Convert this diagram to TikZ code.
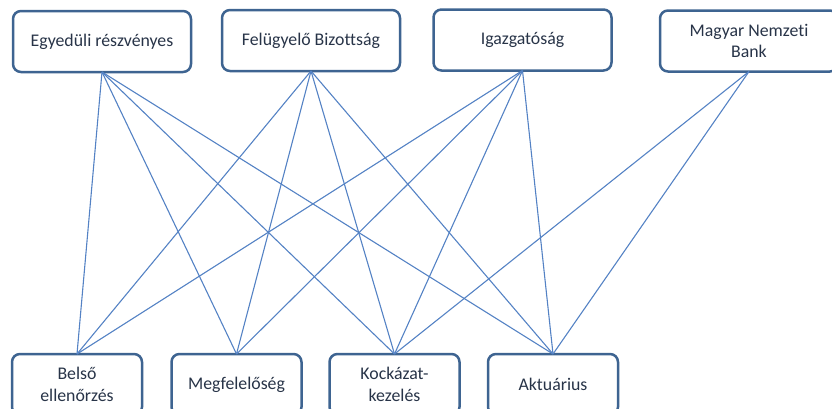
\documentclass[tikz,border=0pt]{standalone}
\usepackage{fontspec}
\setmainfont{Carlito}[Ligatures=NoCommon]
\definecolor{boxborder}{RGB}{62,100,145}
\definecolor{conn}{RGB}{84,130,196}
\definecolor{txt}{RGB}{40,52,72}
\begin{document}
\begin{tikzpicture}[x=1pt,y=-1pt,
  box/.style={draw=boxborder,line width=2.5pt,rounded corners=8pt,fill=white,
    align=center,outer sep=0pt,inner sep=0pt,text=txt,
    font=\fontsize{17.8}{21.5}\selectfont},
  topbox/.style={box,minimum width=178pt,minimum height=61pt},
  botbox/.style={box,minimum width=130pt,minimum height=61pt},
  link/.style={draw=conn,line width=1.1pt}]
\useasboundingbox (0,0) rectangle (832,408);
\node[topbox] (eg) at (102,41.5) {Egyedüli részvényes};
\node[topbox] (fb) at (311,40.5) {Felügyelő Bizottság};
\node[topbox] (ig) at (522.5,40) {Igazgatóság};
\node[topbox] (mnb) at (749,41) {Magyar Nemzeti\\Bank};
\node[botbox] (be) at (77,384.5) {Belső\\ellenőrzés};
\node[botbox] (me) at (236.5,384.5) {Megfelelőség};
\node[botbox] (ko) at (394.5,384.5) {Kockázat-\\kezelés};
\node[botbox] (ak) at (553,384.5) {Aktuárius};
\foreach \s in {eg,fb,ig}{
  \foreach \t in {be,me,ko,ak}{
    \draw[link] (\s.south) -- (\t.north);
  }
}
\draw[link] (mnb.south) -- (ko.north);
\draw[link] (mnb.south) -- (ak.north);
\end{tikzpicture}
\end{document}
